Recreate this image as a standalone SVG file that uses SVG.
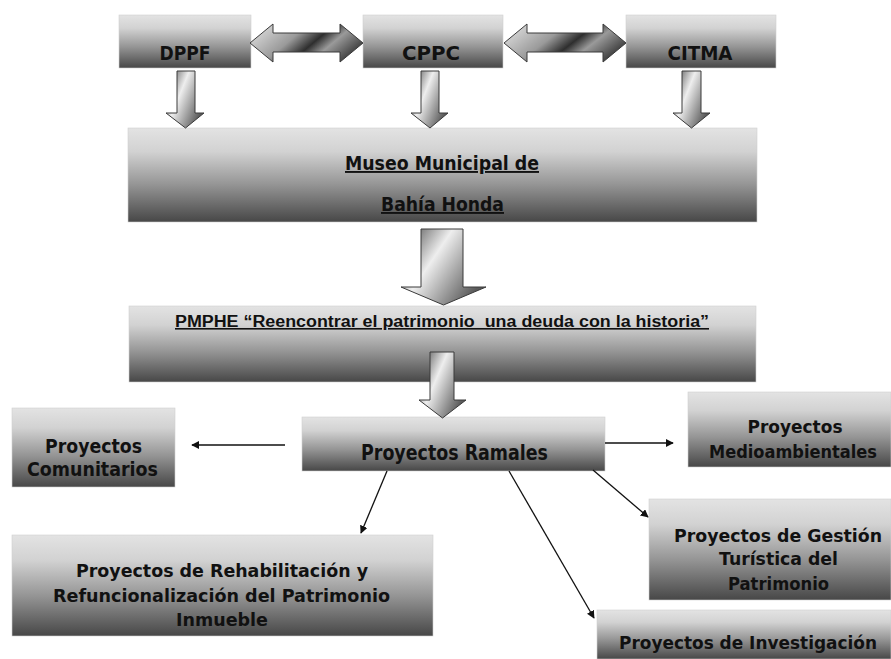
<svg xmlns="http://www.w3.org/2000/svg" width="891" height="659" viewBox="0 0 891 659">
<style>
.box{stroke:#cfcfcf;stroke-width:0.6}
.t{font-family:"DejaVu Sans Condensed","DejaVu Sans",sans-serif;font-weight:bold;fill:#111;text-anchor:middle}
.v{font-family:"DejaVu Sans","Liberation Sans",sans-serif;font-weight:bold;fill:#111;text-anchor:middle}
.a{font-family:"Liberation Sans",Arial,sans-serif;font-weight:bold;fill:#111;text-anchor:middle}
.u{text-decoration:underline}
.blk{stroke:#3a3a3a;stroke-width:1;stroke-linejoin:miter}
.con{stroke:#111;stroke-width:1.3;fill:none}
</style>
<defs>
<linearGradient id="g" x1="0" y1="0" x2="0" y2="1">
<stop offset="0" stop-color="#e3e3e3"/>
<stop offset="0.25" stop-color="#d2d2d2"/>
<stop offset="0.6" stop-color="#959595"/>
<stop offset="1" stop-color="#474747"/>
</linearGradient>
<linearGradient id="ad" x1="0" y1="0" x2="1" y2="0.6">
<stop offset="0" stop-color="#3a3a3a"/>
<stop offset="0.45" stop-color="#eeeeee"/>
<stop offset="1" stop-color="#5a5a5a"/>
</linearGradient>
<linearGradient id="ah" x1="0" y1="0.3" x2="1" y2="0.7">
<stop offset="0" stop-color="#d8d8d8"/>
<stop offset="0.35" stop-color="#9a9a9a"/>
<stop offset="0.55" stop-color="#2e2e2e"/>
<stop offset="0.7" stop-color="#9a9a9a"/>
<stop offset="1" stop-color="#2e2e2e"/>
</linearGradient>
<marker id="m" viewBox="0 0 10 10" refX="9" refY="5" markerWidth="8" markerHeight="8" markerUnits="userSpaceOnUse" orient="auto">
<path d="M0,0 L10,5 L0,10 z" fill="#111"/>
</marker>
</defs>

<g id="DPPF">
<rect class="box" x="119" y="15" width="132" height="53" fill="url(#g)"/>
<text class="t" x="185" y="60" font-size="20" textLength="51" lengthAdjust="spacingAndGlyphs">DPPF</text>
</g>
<g id="CPPC">
<rect class="box" x="363" y="15" width="140" height="53" fill="url(#g)"/>
<text class="t" x="431" y="60" font-size="20" textLength="58" lengthAdjust="spacingAndGlyphs">CPPC</text>
</g>
<g id="CITMA">
<rect class="box" x="626" y="15" width="150" height="53" fill="url(#g)"/>
<text class="t" x="700" y="60" font-size="20" textLength="65" lengthAdjust="spacingAndGlyphs">CITMA</text>
</g>
<g id="Museo">
<rect class="box" x="128" y="128" width="629" height="94" fill="url(#g)"/>
<text class="t u" x="442" y="170" font-size="19" textLength="194" lengthAdjust="spacingAndGlyphs">Museo Municipal de</text>
<text class="t u" x="442.5" y="211" font-size="19" textLength="123" lengthAdjust="spacingAndGlyphs">Bahía Honda</text>
</g>
<g id="PMPHE">
<rect class="box" x="129" y="306" width="627" height="76" fill="url(#g)"/>
<text class="a u" x="442" y="327" font-size="16" textLength="534" lengthAdjust="spacingAndGlyphs" xml:space="preserve">PMPHE “Reencontrar el patrimonio  una deuda con la historia”</text>
</g>
<g id="Ramales">
<rect class="box" x="302" y="417" width="303" height="54" fill="url(#g)"/>
<text class="t" x="454.5" y="460" font-size="21" textLength="187" lengthAdjust="spacingAndGlyphs">Proyectos Ramales</text>
</g>
<g id="Comunitarios">
<rect class="box" x="12" y="408" width="163" height="79" fill="url(#g)"/>
<text class="v" x="93.5" y="453" font-size="19" textLength="97" lengthAdjust="spacingAndGlyphs">Proyectos</text>
<text class="v" x="92.5" y="476" font-size="19" textLength="131" lengthAdjust="spacingAndGlyphs">Comunitarios</text>
</g>
<g id="Medioambientales">
<rect class="box" x="688" y="392" width="203" height="75" fill="url(#g)"/>
<text class="v" x="795" y="433" font-size="17.5" textLength="95" lengthAdjust="spacingAndGlyphs">Proyectos</text>
<text class="v" x="793" y="458" font-size="17.5" textLength="168" lengthAdjust="spacingAndGlyphs">Medioambientales</text>
</g>
<g id="Gestion">
<rect class="box" x="649" y="499" width="242" height="101" fill="url(#g)"/>
<text class="v" x="778" y="542" font-size="18" textLength="208" lengthAdjust="spacingAndGlyphs">Proyectos de Gestión</text>
<text class="v" x="778.5" y="565" font-size="18" textLength="119" lengthAdjust="spacingAndGlyphs">Turística del</text>
<text class="v" x="778.5" y="590" font-size="18" textLength="101" lengthAdjust="spacingAndGlyphs">Patrimonio</text>
</g>
<g id="Rehabilitacion">
<rect class="box" x="12" y="535" width="421" height="101" fill="url(#g)"/>
<text class="v" x="222" y="577" font-size="18" textLength="292" lengthAdjust="spacingAndGlyphs">Proyectos de Rehabilitación y</text>
<text class="v" x="221.5" y="602" font-size="18" textLength="337" lengthAdjust="spacingAndGlyphs">Refuncionalización del Patrimonio</text>
<text class="v" x="222" y="626" font-size="18" textLength="92" lengthAdjust="spacingAndGlyphs">Inmueble</text>
</g>
<g id="Investigacion">
<rect class="box" x="597" y="610" width="294" height="49" fill="url(#g)"/>
<text class="v" x="748" y="649" font-size="17.5" textLength="258" lengthAdjust="spacingAndGlyphs">Proyectos de Investigación</text>
</g>

<g id="connectors">
<path class="blk" fill="url(#ah)" d="M250,43 L273,24 L273,33 L340,33 L340,24 L363,43 L340,62 L340,52 L273,52 L273,62 Z"/>
<path class="blk" fill="url(#ah)" d="M504,43 L527,24 L527,33 L603,33 L603,24 L626,43 L603,62 L603,52 L527,52 L527,62 Z"/>
<path class="blk" fill="url(#ad)" d="M177,71 L195,71 L195,113 L204,113 L185.5,128 L166,113 L177,113 Z"/>
<path class="blk" fill="url(#ad)" d="M421,71 L439,71 L439,113 L448,113 L430,128 L411,113 L421,113 Z"/>
<path class="blk" fill="url(#ad)" d="M682,71 L701,71 L701,113 L710,113 L691.5,128 L673,113 L682,113 Z"/>
<path class="blk" fill="url(#ad)" d="M421,229 L463,229 L463,287 L486,287 L443.5,305 L401,287 L421,287 Z"/>
<path class="blk" fill="url(#ad)" d="M430,352 L454,352 L454,400 L466,400 L442.5,418 L419,400 L430,400 Z"/>
<line class="con" x1="285" y1="445" x2="192" y2="445" marker-end="url(#m)"/>
<line class="con" x1="605" y1="443" x2="673" y2="443" marker-end="url(#m)"/>
<line class="con" x1="387" y1="471" x2="361" y2="533" marker-end="url(#m)"/>
<line class="con" x1="509" y1="471" x2="594" y2="618" marker-end="url(#m)"/>
<line class="con" x1="593" y1="470" x2="648" y2="517" marker-end="url(#m)"/>
</g>
</svg>
